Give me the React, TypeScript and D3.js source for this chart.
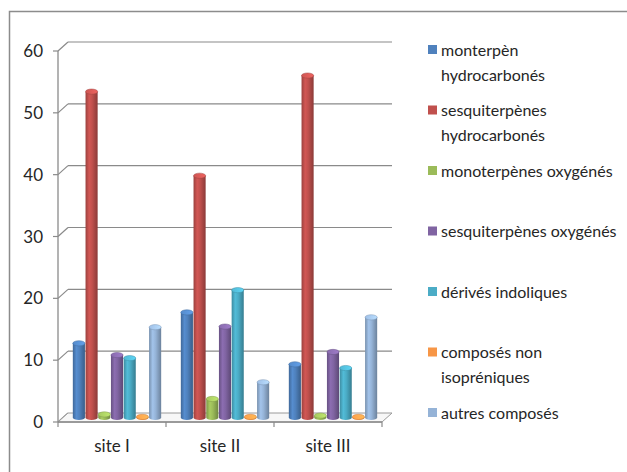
import React from "react";
import * as d3 from "d3";

// Chart data
const sites = ["site I", "site II", "site III"];
const seriesNames = [
  ["monterpèn", "hydrocarbonés"],
  ["sesquiterpènes", "hydrocarbonés"],
  ["monoterpènes oxygénés"],
  ["sesquiterpènes oxygénés"],
  ["dérivés indoliques"],
  ["composés non", "isopréniques"],
  ["autres composés"],
];
const seriesColors = ["#4F81BD", "#C0504D", "#9BBB59", "#8064A2", "#4BACC6", "#F79646", "#95B3D7"];
// values[series][site]
const monoHydro = [12, 17, 8.6];
const sesquiHydro = [52.7, 39.1, 55.3];
const monoOxy = [0.5, 3.0, 0.3];
const sesquiOxy = [10.1, 14.7, 10.6];
const indoles = [9.6, 20.6, 8.0];
const nonIso = [0.1, 0.1, 0.1];
const autres = [14.6, 5.7, 16.2];
const seriesValues = [monoHydro, sesquiHydro, monoOxy, sesquiOxy, indoles, nonIso, autres];
const yTicks = [0, 10, 20, 30, 40, 50, 60];

const W = 627;
const H = 472;
const FONT = "Lato, 'Open Sans', sans-serif";

// 3-D depth offsets (back wall relative to the front plane)
const DX = 10;
const DY = -9;

export default function App() {
  const x = d3.scaleBand<string>().domain(sites).range([58, 382]).paddingInner(0).paddingOuter(0);
  const y = d3.scaleLinear().domain([0, 60]).range([422, 51]);
  const bw = x.bandwidth() / (seriesValues.length + 1.5);
  const inner = d3
    .scaleBand<number>()
    .domain(d3.range(seriesValues.length))
    .range([0.75 * bw, x.bandwidth() - 0.75 * bw]);

  const mdx = DX / 2;
  const mdy = DY / 2;
  const ry = 2.6;

  const legendY = d3.scaleLinear().domain([0, 6]).range([50, 413]);

  return (
    <svg width={W} height={H} style={{ position: "absolute", left: 0, top: 0 }}>
      <defs>
        {seriesColors.map((c, i) => {
          const base = d3.color(c)!;
          return (
            <React.Fragment key={i}>
              <linearGradient id={`cyl${i}`} x1="0" x2="1" y1="0" y2="0">
                <stop offset="0" stopColor={base.darker(0.6).toString()} />
                <stop offset="0.3" stopColor={base.brighter(0.25).toString()} />
                <stop offset="0.55" stopColor={c} />
                <stop offset="1" stopColor={base.darker(0.9).toString()} />
              </linearGradient>
              <linearGradient id={`top${i}`} x1="0" x2="1" y1="0" y2="0">
                <stop offset="0" stopColor={base.brighter(0.2).toString()} />
                <stop offset="1" stopColor={base.brighter(0.6).toString()} />
              </linearGradient>
            </React.Fragment>
          );
        })}
      </defs>
      <rect x={0} y={0} width={W} height={H} fill="#ffffff" />
      {/* outer chart frame */}
      <rect x={9.5} y={11.5} width={W + 20} height={H + 20} fill="none" stroke="#8c8c8c" strokeWidth={1.5} />

      {/* back-wall gridlines with the side-wall diagonals */}
      {yTicks.map((t) => (
        <g key={t} stroke="#8a8a8a" strokeWidth={1.2} fill="none">
          <line x1={58} y1={y(t)} x2={58 + DX} y2={y(t) + DY} />
          {t > 0 && <line x1={58 + DX} y1={y(t) + DY} x2={392} y2={y(t) + DY} />}
          <line x1={53} y1={y(t)} x2={58} y2={y(t)} />
        </g>
      ))}

      {/* floor */}
      <polygon
        points={`58,${y(0)} 382,${y(0)} ${382 + DX},${y(0) + DY} ${58 + DX},${y(0) + DY}`}
        fill="#f7f7f7"
        stroke="#9a9a9a"
        strokeWidth={1}
      />

      {/* value axis */}
      <line x1={58} y1={y(60)} x2={58} y2={y(0)} stroke="#8a8a8a" strokeWidth={1.3} />
      {yTicks.map((t) => (
        <text
          key={t}
          x={43}
          y={y(t)}
          dy="0.36em"
          textAnchor="end"
          fontFamily={FONT}
          fontSize={17}
          fill="#262626"
        >
          {t}
        </text>
      ))}

      {/* cylinders */}
      {sites.map((s, si) => (
        <g key={s}>
          {seriesValues.map((vals, k) => {
            const v = vals[si];
            const x0 = (x(s) as number) + (inner(k) as number) + mdx;
            const cx = x0 + bw / 2;
            const yTop = y(v) + mdy;
            const yBot = y(0) + mdy;
            const rx = bw / 2 - 0.3;
            return (
              <g key={k}>
                <path
                  d={`M${cx - rx},${yTop} L${cx - rx},${yBot} A${rx},${ry} 0 0 0 ${cx + rx},${yBot} L${cx + rx},${yTop} Z`}
                  fill={`url(#cyl${k})`}
                />
                <ellipse cx={cx} cy={yTop} rx={rx} ry={ry} fill={`url(#top${k})`} stroke={d3.color(seriesColors[k])!.darker(0.5).toString()} strokeWidth={0.5} />
              </g>
            );
          })}
        </g>
      ))}

      {/* category axis */}
      <line x1={58} y1={y(0)} x2={382} y2={y(0)} stroke="#8a8a8a" strokeWidth={1.3} />
      {[...sites.map((s) => x(s) as number), 382].map((px, i) => (
        <line key={i} x1={px} y1={y(0)} x2={px} y2={y(0) + 5} stroke="#8a8a8a" strokeWidth={1.2} />
      ))}
      {sites.map((s) => (
        <text
          key={s}
          x={(x(s) as number) + x.bandwidth() / 2}
          y={446}
          textAnchor="middle"
          dy="0.36em"
          fontFamily={FONT}
          fontSize={17}
          fill="#262626"
        >
          {s}
        </text>
      ))}

      {/* legend */}
      {seriesNames.map((lines, k) => {
        const ly = legendY(k);
        return (
          <g key={k}>
            <rect x={428} y={ly - 5} width={9} height={9} fill={seriesColors[k]} />
            {lines.map((ln, j) => (
              <text
                key={j}
                x={441}
                y={ly + j * 25}
                dy="0.36em"
                fontFamily={FONT}
                fontSize={16}
                fill="#262626"
              >
                {ln}
              </text>
            ))}
          </g>
        );
      })}
    </svg>
  );
}
